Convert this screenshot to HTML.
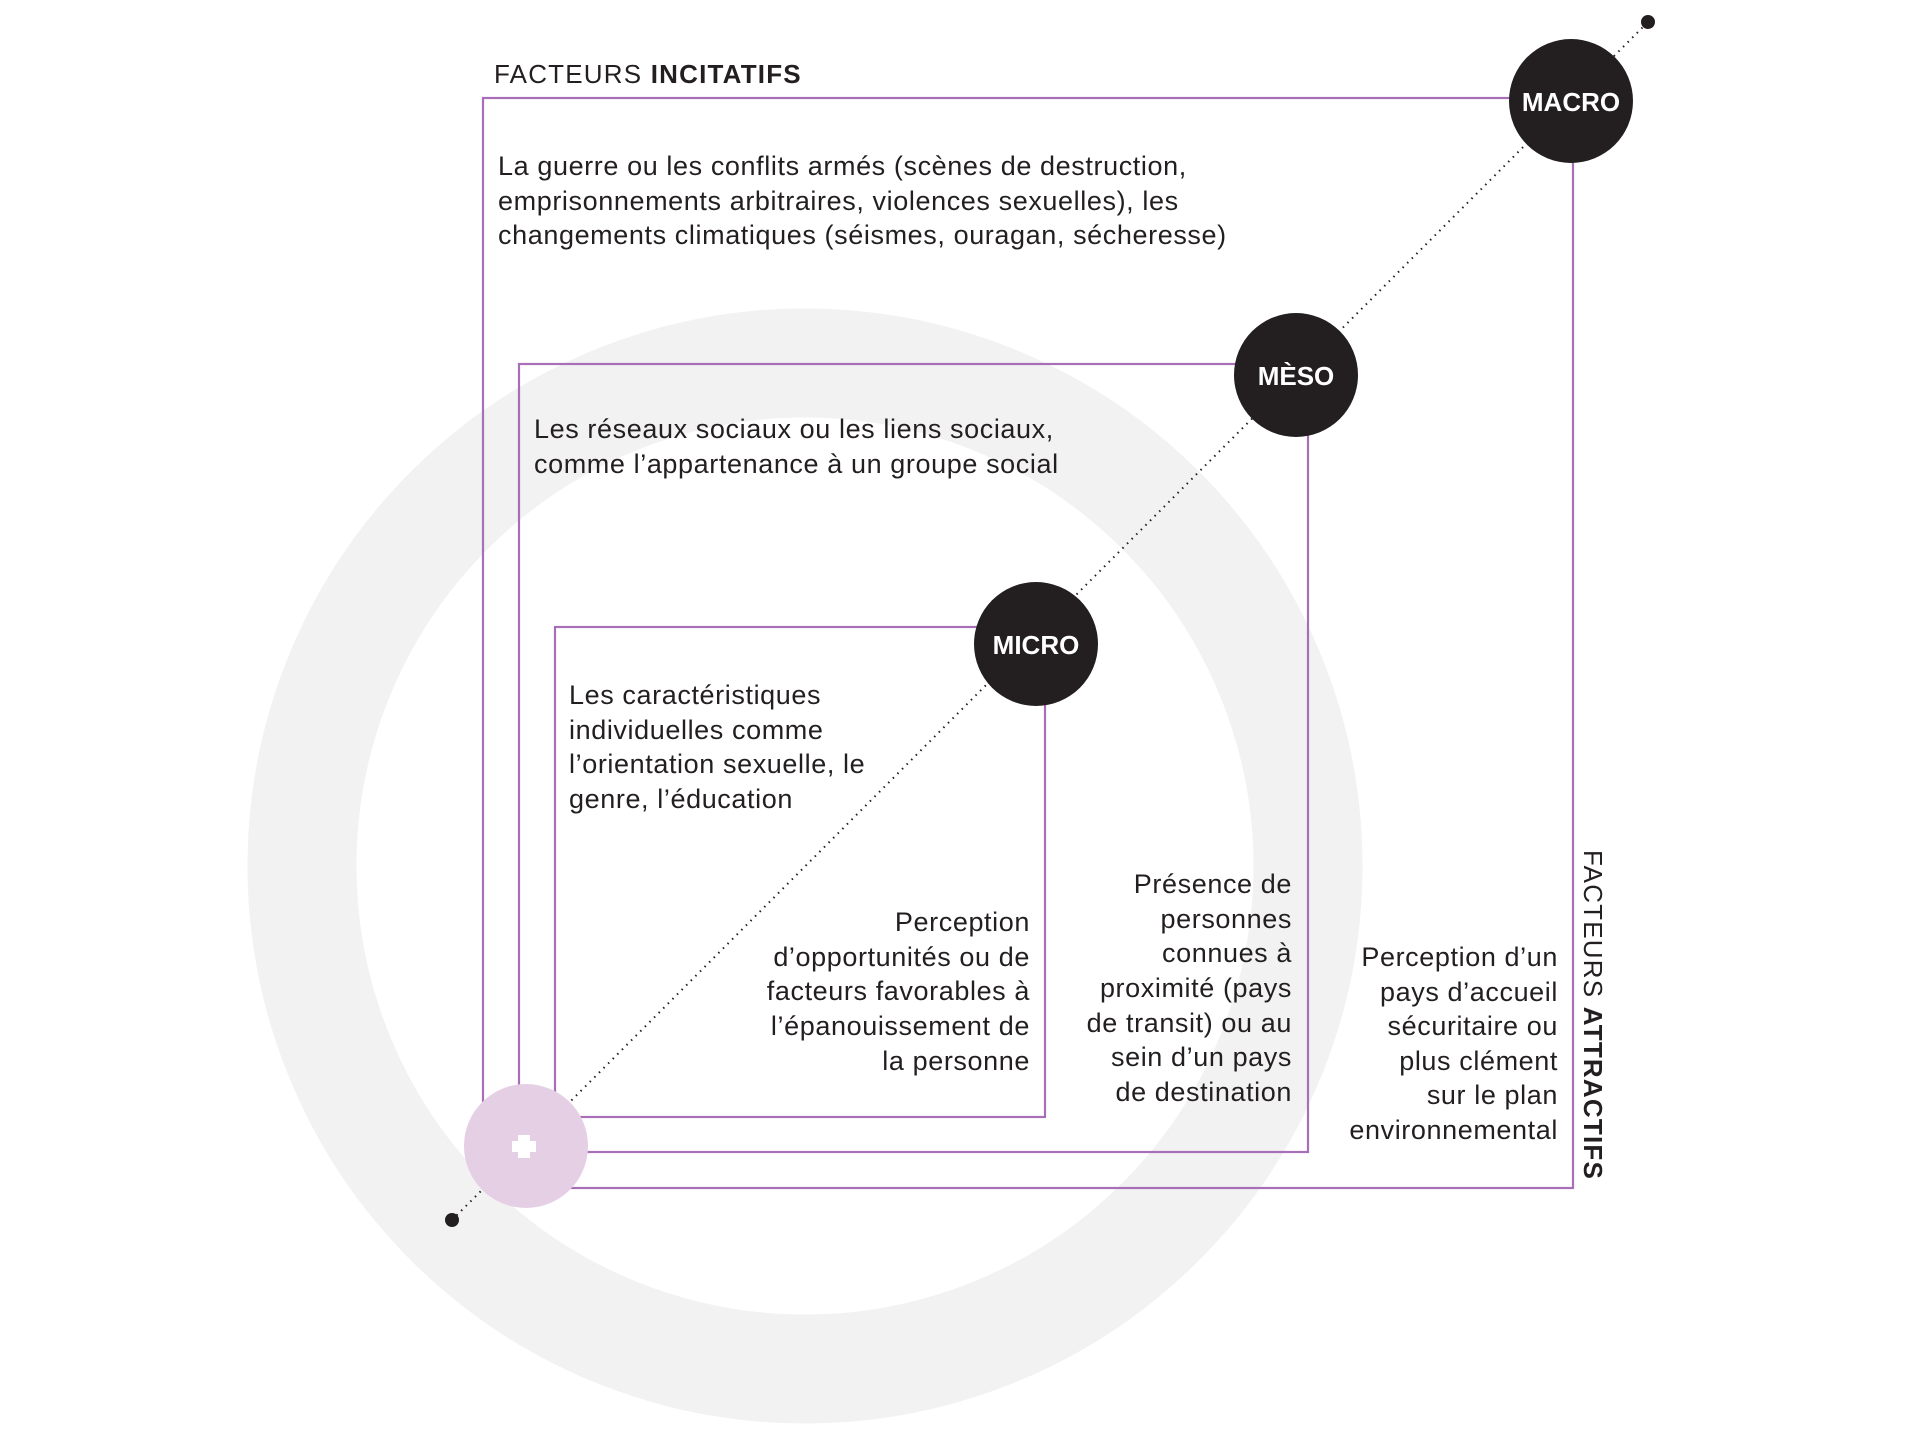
<!DOCTYPE html>
<html><head><meta charset="utf-8"><style>
html,body{margin:0;padding:0;background:#fff;}
svg{display:block;}
text{font-family:"Liberation Sans",sans-serif;fill:#231f20;}
.b{letter-spacing:0.6px;}
</style></head><body>
<svg width="1920" height="1443" viewBox="0 0 1920 1443" xmlns="http://www.w3.org/2000/svg">
<circle cx="805" cy="866" r="503" fill="none" stroke="#f2f2f2" stroke-width="109"/>
<g fill="none" stroke="#a86fb8" stroke-width="2.2">
<rect x="483" y="98" width="1090" height="1090"/>
<rect x="519" y="364" width="789" height="788"/>
<rect x="555" y="627" width="490" height="490"/>
</g>
<line x1="452" y1="1220" x2="1648" y2="22" stroke="#231f20" stroke-width="2" stroke-dasharray="1.5 5"/>
<circle cx="1648" cy="22" r="7" fill="#231f20"/>
<circle cx="452" cy="1220" r="7" fill="#231f20"/>
<circle cx="1571" cy="101" r="62" fill="#231f20"/>
<circle cx="1296" cy="375" r="62" fill="#231f20"/>
<circle cx="1036" cy="644" r="62" fill="#231f20"/>
<circle cx="526" cy="1146" r="62" fill="#e5cfe5"/>
<rect x="512" y="1141" width="24" height="11" fill="#fff"/>
<rect x="518" y="1135" width="12" height="23" fill="#fff"/>
<g font-weight="bold" font-size="26" text-anchor="middle">
<text x="1571" y="111" style="fill:#fff">MACRO</text>
<text x="1296" y="385" style="fill:#fff">MÈSO</text>
<text x="1036" y="654" style="fill:#fff">MICRO</text>
</g>
<text x="494" y="83" font-size="26" letter-spacing="1.2">FACTEURS <tspan font-weight="bold">INCITATIFS</tspan></text>
<g font-size="27" class="b">
<text x="498" y="175">La guerre ou les conflits armés (scènes de destruction,</text>
<text x="498" y="210">emprisonnements arbitraires, violences sexuelles), les</text>
<text x="498" y="244">changements climatiques (séismes, ouragan, sécheresse)</text>
<text x="534" y="438">Les réseaux sociaux ou les liens sociaux,</text>
<text x="534" y="473">comme l’appartenance à un groupe social</text>
<text x="569" y="704">Les caractéristiques</text>
<text x="569" y="739">individuelles comme</text>
<text x="569" y="773">l’orientation sexuelle, le</text>
<text x="569" y="808">genre, l’éducation</text>
</g>
<g font-size="27" text-anchor="end" class="b">
<text x="1030" y="931">Perception</text>
<text x="1030" y="966">d’opportunités ou de</text>
<text x="1030" y="1000">facteurs favorables à</text>
<text x="1030" y="1035">l’épanouissement de</text>
<text x="1030" y="1070">la personne</text>
<text x="1292" y="893">Présence de</text>
<text x="1292" y="928">personnes</text>
<text x="1292" y="962">connues à</text>
<text x="1292" y="997">proximité (pays</text>
<text x="1292" y="1032">de transit) ou au</text>
<text x="1292" y="1066">sein d’un pays</text>
<text x="1292" y="1101">de destination</text>
<text x="1558" y="966">Perception d’un</text>
<text x="1558" y="1001">pays d’accueil</text>
<text x="1558" y="1035">sécuritaire ou</text>
<text x="1558" y="1070">plus clément</text>
<text x="1558" y="1104">sur le plan</text>
<text x="1558" y="1139">environnemental</text>
</g>
<text transform="translate(1584,850) rotate(90)" font-size="26" letter-spacing="1.2">FACTEURS <tspan font-weight="bold">ATTRACTIFS</tspan></text>
</svg>
</body></html>
